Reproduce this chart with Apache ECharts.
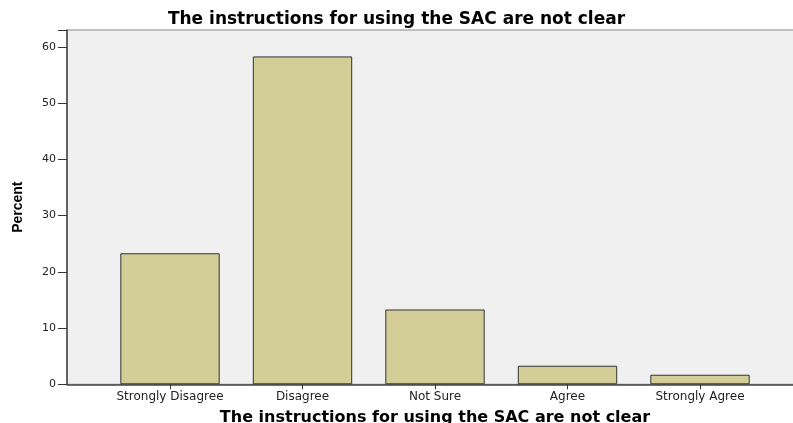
<!DOCTYPE html>
<html><head><meta charset="utf-8">
<script src="https://cdn.jsdelivr.net/npm/echarts@6/dist/echarts.min.js"></script>
<style>html,body{margin:0;padding:0;background:#fff}#c{width:793px;height:423px}</style>
</head><body><div id="c"></div>
<script>
var categories = ['Strongly Disagree', 'Disagree', 'Not Sure', 'Agree', 'Strongly Agree'];
var percentValues = [23.3, 58.3, 13.3, 3.3, 1.7];
var yTicks = [0, 10, 20, 30, 40, 50, 60];
var titleText = 'The instructions for using the SAC are not clear';

var wideFont = 'DejaVu Sans, Verdana, sans-serif';
var chart = echarts.init(document.getElementById('c'));
chart.setOption({
  animation: false,
  title: {
    text: titleText, left: 'center', top: 6,
    textStyle: { fontFamily: wideFont, fontSize: 17, fontWeight: 'bold', color: '#000' }
  },
  grid: [
    { left: 67, right: -10, top: 30, bottom: 38.7, show: true, backgroundColor: '#F0F0F0', borderColor: '#888', borderWidth: 1, outerBoundsMode: 'none', containLabel: false },
    { left: 103.75, right: 26.75, top: 30, bottom: 38.7, outerBoundsMode: 'none', containLabel: false }
  ],
  xAxis: [
    { gridIndex: 0, type: 'value', min: 0, max: 1,
      axisLine: { show: true, lineStyle: { color: '#444', width: 1.5 } },
      axisTick: { show: false }, axisLabel: { show: false }, splitLine: { show: false } },
    {
      gridIndex: 1, type: 'category', data: categories,
      axisLine: { show: false },
      axisTick: { show: true, alignWithLabel: true, interval: 0, length: 5, lineStyle: { color: '#333' } },
      axisLabel: { color: '#222', fontSize: 12, fontFamily: wideFont, margin: 7, interval: 0, hideOverlap: false },
      name: titleText, nameLocation: 'middle', nameGap: 26,
      nameTextStyle: { fontFamily: wideFont, fontSize: 16, fontWeight: 'bold', color: '#000' }
    }
  ],
  yAxis: [
    { gridIndex: 0, type: 'value', show: false, min: 0, max: 1 },
    {
      gridIndex: 1, type: 'value', min: 0, max: 63, interval: 10, offset: 36.75,
      axisLine: { show: true, lineStyle: { color: '#444', width: 1.5 } },
      axisTick: { show: true, length: 9, lineStyle: { color: '#333' } },
      axisLabel: { color: '#222', fontSize: 11, fontFamily: wideFont, margin: 11,
        formatter: function (v) { return yTicks.indexOf(v) >= 0 ? String(v) : ''; } },
      splitLine: { show: false },
      name: 'Percent', nameLocation: 'middle', nameGap: 42, nameRotate: 90,
      nameTextStyle: { fontFamily: 'Liberation Sans, Arial, sans-serif', fontSize: 14, fontWeight: 'bold', color: '#000' }
    }
  ],
  series: [{
    type: 'bar', xAxisIndex: 1, yAxisIndex: 1, data: percentValues,
    barCategoryGap: '25%',
    itemStyle: { color: '#D3CE97', borderColor: '#333', borderWidth: 1 }
  }]
});
</script></body></html>
